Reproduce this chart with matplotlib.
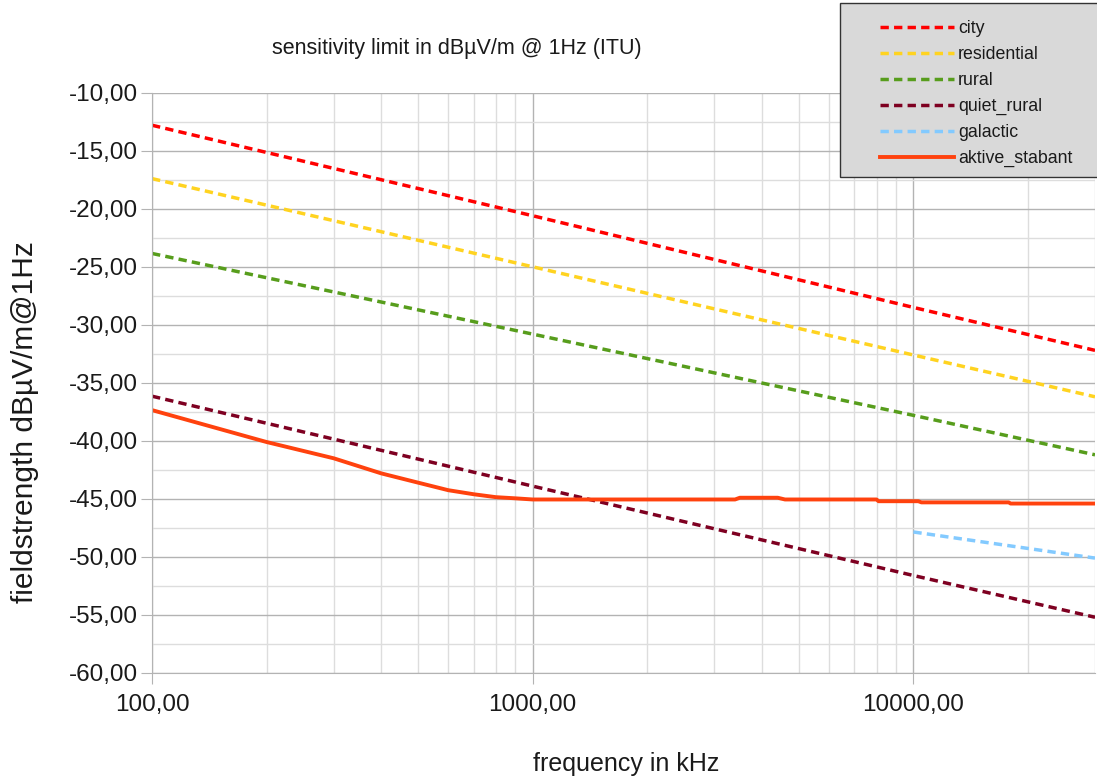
import matplotlib
matplotlib.use('Agg')
import matplotlib.pyplot as plt
from matplotlib.patches import Rectangle
from matplotlib.ticker import FixedLocator, FuncFormatter, MultipleLocator

plt.rcParams['font.family'] = ['Liberation Sans', 'DejaVu Sans']

# frequency in kHz, fieldstrength in dBuV/m @ 1Hz
freq_noise = [100, 1000, 10000, 30000]
city = [-12.8, -20.6, -28.5, -32.2]
residential = [-17.4, -25.0, -32.6, -36.2]
rural = [-23.85, -30.8, -37.8, -41.2]
quiet_rural = [-36.15, -43.9, -51.6, -55.2]

freq_galactic = [10000, 30000]
galactic = [-47.85, -50.1]

freq_aktive = [100, 200, 300, 400, 500, 600, 700, 800, 900, 1000,
               3400, 3500, 4400, 4600, 8000, 8100, 10300, 10500,
               17800, 18000, 30000]
aktive = [-37.35, -40.1, -41.5, -42.8, -43.6, -44.25, -44.6, -44.85, -44.95, -45.05,
          -45.05, -44.9, -44.9, -45.05, -45.05, -45.2, -45.2, -45.3,
          -45.3, -45.4, -45.4]

fig = plt.figure(figsize=(10.97, 7.78), dpi=100)
ax = fig.add_axes([0.1386, 0.135, 0.8596, 0.7458])

dash = (2.4, 1.5)
ax.plot(freq_noise, city, color='#ff0000', lw=2.5, dashes=dash, label='city')
ax.plot(freq_noise, residential, color='#ffd320', lw=2.5, dashes=dash, label='residential')
ax.plot(freq_noise, rural, color='#579d1c', lw=2.5, dashes=dash, label='rural')
ax.plot(freq_noise, quiet_rural, color='#7e0021', lw=2.5, dashes=dash, label='quiet_rural')
ax.plot(freq_galactic, galactic, color='#83caff', lw=2.5, dashes=dash, label='galactic')
ax.plot(freq_aktive, aktive, color='#ff420e', lw=2.8, label='aktive_stabant')

ax.set_xscale('log')
ax.set_xlim(100, 30000)
ax.set_ylim(-60, -10)

ax.xaxis.set_major_locator(FixedLocator([100, 1000, 10000]))
ax.xaxis.set_minor_locator(FixedLocator([m * d for d in (100, 1000, 10000) for m in range(2, 10) if m * d <= 30000]))
ax.xaxis.set_major_formatter(FuncFormatter(lambda v, p: ('%.2f' % v).replace('.', ',')))
ax.xaxis.set_minor_formatter(FuncFormatter(lambda v, p: ''))
ax.yaxis.set_major_locator(MultipleLocator(5))
ax.yaxis.set_minor_locator(MultipleLocator(2.5))
ax.yaxis.set_major_formatter(FuncFormatter(lambda v, p: ('%.2f' % v).replace('.', ',')))

ax.grid(which='major', color='#b3b3b3', lw=1.0)
ax.grid(which='minor', color='#dddddd', lw=1.0)
ax.set_axisbelow(True)

for s in ('top', 'right'):
    ax.spines[s].set_visible(False)
for s in ('left', 'bottom'):
    ax.spines[s].set_color('#b3b3b3')

ax.tick_params(which='major', length=8, color='#b3b3b3', labelsize=17.5, colors='#b3b3b3',
               labelcolor='#1a1a1a', pad=2)
ax.tick_params(axis='x', which='major', pad=7)
ax.tick_params(which='minor', length=0)

fig.text(0.571, 0.018, 'frequency in kHz', ha='center', va='center', fontsize=18, color='#1a1a1a')
fig.text(0.023, 0.458, 'fieldstrength dBµV/m@1Hz', ha='center', va='center', rotation=90,
         fontsize=21.5, color='#1a1a1a')
fig.text(0.416, 0.938, 'sensitivity limit in dBµV/m @ 1Hz (ITU)', ha='center', va='center',
         fontsize=15.5, color='#1a1a1a')

# legend box drawn by hand so it runs off the right edge like the original
fig.patches.append(Rectangle((0.7657, 0.7725), 0.24, 0.2237, transform=fig.transFigure,
                             facecolor='#d9d9d9', edgecolor='#333333', lw=1.0, zorder=1))
leg = fig.legend(loc='upper left', bbox_to_anchor=(0.802, 0.974), fontsize=12.8,
                 handlelength=4.2, handletextpad=0.2, labelspacing=0.5,
                 borderpad=0, borderaxespad=0, frameon=False)
for t in leg.get_texts():
    t.set_color('#1a1a1a')

fig.savefig('out.png', dpi=100)
